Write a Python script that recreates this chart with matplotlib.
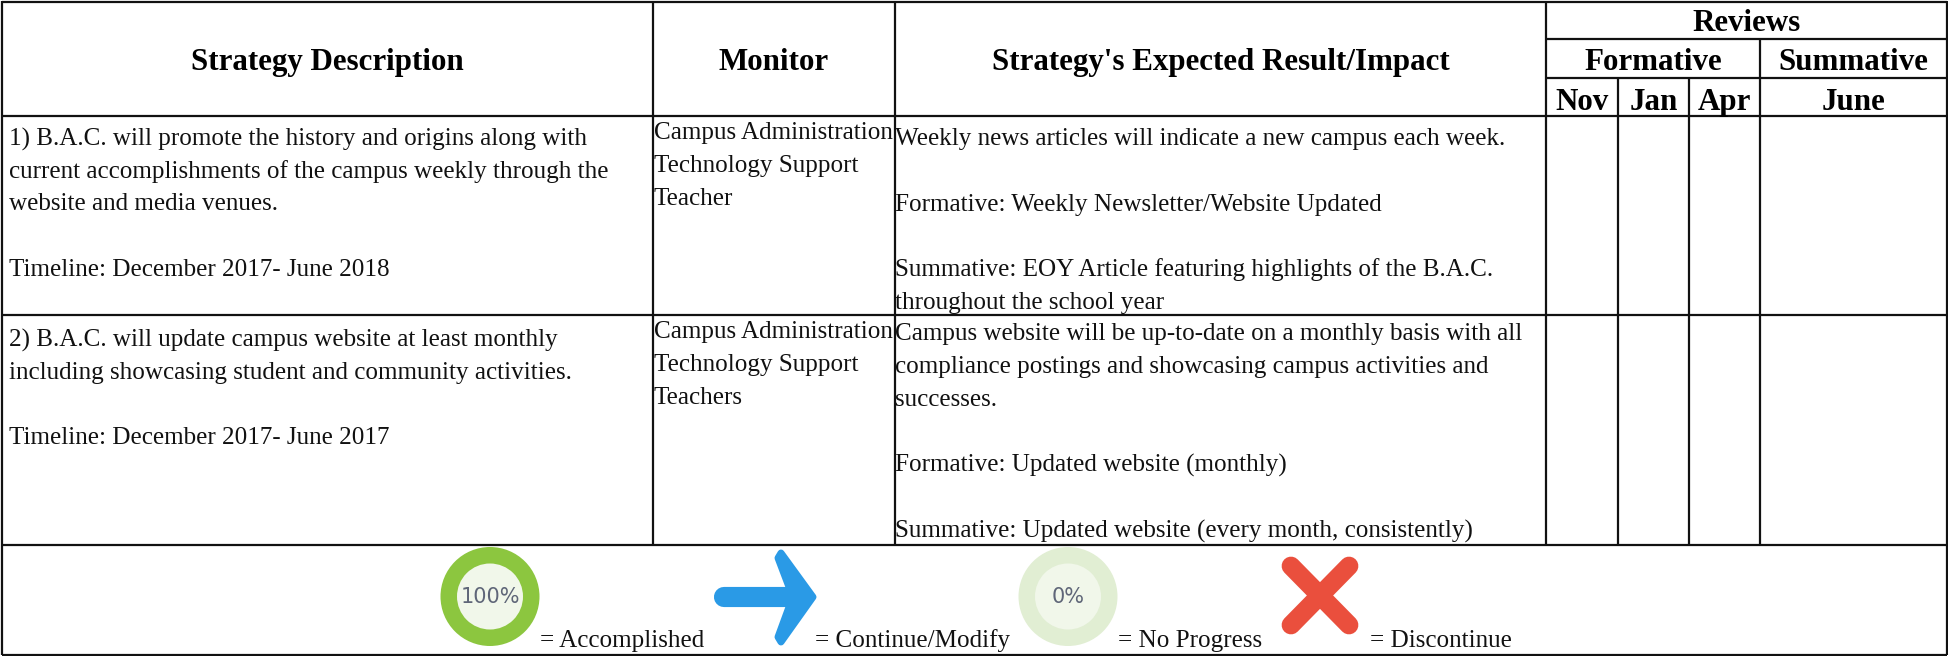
#!/usr/bin/python
# -*-coding:Utf-8 -*

import matplotlib
matplotlib.use("Agg")
import matplotlib.pyplot as plt
from matplotlib.patches import Ellipse, Polygon

# Contenu du tableau
headers = ["Strategy Description", "Monitor", "Strategy's Expected Result/Impact"]
review_top = "Reviews"
review_groups = ["Formative", "Summative"]
review_months = ["Nov", "Jan", "Apr", "June"]

strategy_1 = ["1) B.A.C. will promote the history and origins along with",
              "current accomplishments of the campus weekly through the",
              "website and media venues.", "", "Timeline: December 2017- June 2018"]
monitor_1 = ["Campus Administration", "Technology Support", "Teacher"]
impact_1 = ["Weekly news articles will indicate a new campus each week.", "",
            "Formative: Weekly Newsletter/Website Updated", "",
            "Summative: EOY Article featuring highlights of the B.A.C.",
            "throughout the school year"]

strategy_2 = ["2) B.A.C. will update campus website at least monthly",
              "including showcasing student and community activities.", "",
              "Timeline: December 2017- June 2017"]
monitor_2 = ["Campus Administration", "Technology Support", "Teachers"]
impact_2 = ["Campus website will be up-to-date on a monthly basis with all",
            "compliance postings and showcasing campus activities and",
            "successes.", "",
            "Formative: Updated website (monthly)", "",
            "Summative: Updated website (every month, consistently)"]

legend_labels = ["= Accomplished", "= Continue/Modify", "= No Progress", "= Discontinue"]

W, H = 1949, 656
plt.rcParams['font.family'] = ['Liberation Serif', 'DejaVu Serif']

fig = plt.figure(figsize=(W/100, H/100), dpi=100)
ax = fig.add_axes([0, 0, 1, 1])
ax.set_xlim(0, W)
ax.set_ylim(H, 0)
ax.axis("off")

# Grille
xs = [2.5, 653, 895, 1546, 1618, 1689, 1760, 1947]
def hline(y, x0=xs[0], x1=xs[-1], lw=1.6):
	ax.plot([x0, x1], [y, y], color="#111111", lw=lw, solid_capstyle="butt")
def vline(x, y0, y1, lw=1.6):
	ax.plot([x, x], [y0, y1], color="#111111", lw=lw, solid_capstyle="butt")

hline(1.5); hline(116); hline(315); hline(545); hline(654.5)
hline(39, xs[3], xs[-1]); hline(78, xs[3], xs[-1])
vline(xs[0], 1, 655); vline(xs[-1], 1, 655)
vline(xs[1], 1, 545); vline(xs[2], 1, 545); vline(xs[3], 1, 545)
vline(xs[4], 78, 545); vline(xs[5], 78, 545)
vline(xs[6], 39, 545)

# En-tetes
def head(x, y, s, size=22.3):
	ax.text(x, y, s, fontsize=size, fontweight="bold", ha="center", va="baseline", color="#000000")

head((xs[0]+xs[1])/2, 70, headers[0])
head((xs[1]+xs[2])/2, 70, headers[1])
head((xs[2]+xs[3])/2, 70, headers[2])
head((xs[3]+xs[7])/2, 31, review_top)
head((xs[3]+xs[6])/2, 70, review_groups[0])
head((xs[6]+xs[7])/2, 70, review_groups[1])
head((xs[3]+xs[4])/2, 110, review_months[0])
head((xs[4]+xs[5])/2, 110, review_months[1])
head((xs[5]+xs[6])/2, 110, review_months[2])
head((xs[6]+xs[7])/2, 110, review_months[3])

# Cellules
FS = 18.1
def cell(x, y, lines, step=32.8):
	for i, s in enumerate(lines):
		if s:
			ax.text(x, y+i*step, s, fontsize=FS, ha="left", va="baseline", color="#111111")

cell(9, 146, strategy_1[:3], 32)
ax.text(9, 276, strategy_1[4], fontsize=FS, color="#111111")
cell(654, 139, monitor_1)
cell(895, 145, impact_1)
cell(9, 347, strategy_2[:2], 32)
ax.text(9, 444, strategy_2[3], fontsize=FS, color="#111111")
cell(654, 338, monitor_2)
cell(895, 340, impact_2, 33)

# Legende
def ring(cx, outer, inner, s):
	ax.add_patch(Ellipse((cx, 596.5), 99, 99, color=outer, lw=0))
	ax.add_patch(Ellipse((cx, 596.5), 66, 66, color=inner, lw=0))
	ax.text(cx, 597, s, fontsize=15, family="DejaVu Sans", color="#5f6678", ha="center", va="center")

ring(490, "#8cc63f", "#f1f7ea", "100%")
ring(1068, "#e1eed3", "#f1f7ea", "0%")

blue = "#2a9ae6"
ax.plot([724, 790], [597, 597], color=blue, lw=14.5, solid_capstyle="round")
ax.add_patch(Polygon([(781, 553), (813, 597), (781, 642), (778, 637), (789, 607),
                      (789, 587), (778, 558)], closed=True, fc=blue, ec=blue, lw=5, joinstyle="round"))

red = "#ea4f3d"
ax.plot([1291, 1349], [566, 625], color=red, lw=13.5, solid_capstyle="round")
ax.plot([1349, 1291], [566, 625], color=red, lw=13.5, solid_capstyle="round")

for x, s in zip([540, 815, 1118, 1370], legend_labels):
	ax.text(x, 647, s, fontsize=FS, ha="left", va="baseline", color="#111111", zorder=5)

fig.savefig("out.png", dpi=100)
